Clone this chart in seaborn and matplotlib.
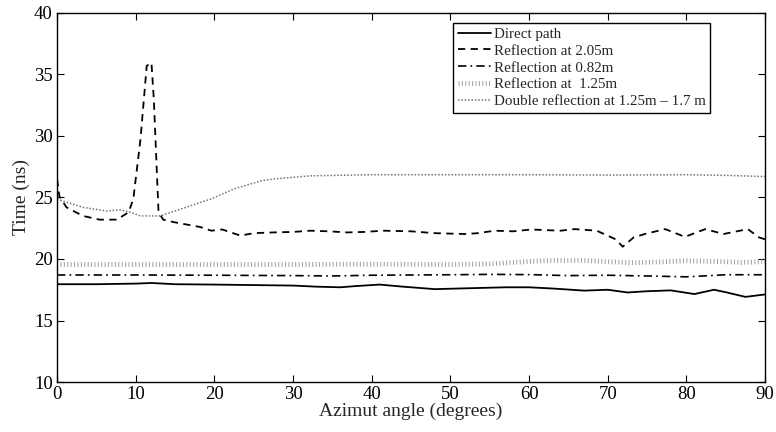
import numpy as np
import pandas as pd
import seaborn as sns
import matplotlib
matplotlib.use("Agg")
import matplotlib.pyplot as plt

# values
direct_x = [0, 5, 10, 12, 15, 20, 25, 30, 33, 36, 38, 41, 44, 48, 51, 54, 57, 60, 63, 67,
            70, 72.5, 75, 78, 81, 83.5, 85, 87.5, 90]
direct_y = [17.95, 17.95, 18.0, 18.05, 17.95, 17.92, 17.88, 17.84, 17.75, 17.7, 17.8, 17.92,
            17.75, 17.55, 17.6, 17.65, 17.7, 17.7, 17.6, 17.43, 17.5, 17.28, 17.38, 17.45,
            17.15, 17.5, 17.3, 16.92, 17.12]

refl205_x = [0, 0.3, 1.2, 3.3, 5.4, 7.6, 9.1, 9.7, 10.6, 11.4, 12.0, 12.3, 12.9, 13.5, 14.8,
             16.5, 18.2, 19.6, 21, 23.3, 25, 27.5, 30, 32.2, 34.5, 36.9, 39, 41.5, 45, 48,
             51.9, 53.5, 55.6, 58, 60.3, 62, 64, 65.8, 68.6, 71, 71.9, 73.3, 74.7, 77.3,
             79.8, 82.4, 84.7, 87.8, 89.2, 90]
refl205_y = [26.5, 25.1, 24.2, 23.5, 23.2, 23.2, 23.8, 24.9, 29.7, 35.7, 35.95, 33.0, 23.8,
             23.2, 23.0, 22.8, 22.6, 22.3, 22.4, 21.9, 22.1, 22.16, 22.2, 22.3, 22.25, 22.16,
             22.2, 22.3, 22.25, 22.1, 22.03, 22.1, 22.3, 22.25, 22.4, 22.35, 22.3, 22.43,
             22.3, 21.6, 21.0, 21.76, 22.03, 22.43, 21.8, 22.43, 22.03, 22.43, 21.76, 21.6]

refl082_x = [0, 10, 20, 30, 35, 40, 50, 55, 60, 65, 70, 75, 80, 85, 90]
refl082_y = [18.7, 18.7, 18.68, 18.65, 18.62, 18.68, 18.72, 18.75, 18.73, 18.65, 18.68,
             18.62, 18.55, 18.72, 18.72]

refl125_x = [0, 10, 20, 30, 40, 50, 55, 60, 63, 67, 70, 73, 76, 80, 84, 87, 90]
refl125_y = [19.55, 19.55, 19.55, 19.55, 19.58, 19.55, 19.6, 19.8, 19.88, 19.88, 19.78,
             19.7, 19.75, 19.85, 19.8, 19.72, 19.8]

double_x = [0, 3.3, 6.3, 8, 9.3, 10.6, 13.1, 15.7, 18.2, 19.5, 22.5, 25.9, 27.5, 32.2, 40,
            50, 60, 70, 80, 85, 90]
double_y = [24.86, 24.2, 23.9, 24.0, 23.8, 23.5, 23.5, 24.05, 24.6, 24.86, 25.7, 26.35,
            26.5, 26.76, 26.85, 26.85, 26.85, 26.82, 26.85, 26.8, 26.7]

labels = ['Direct path', 'Reflection at 2.05m', 'Reflection at 0.82m',
          'Reflection at  1.25m', 'Double reflection at 1.25m \u2013 1.7 m']

sns.set_theme(style="ticks")
plt.rcParams['font.family'] = ['Liberation Serif', 'DejaVu Serif']
plt.rcParams['xtick.direction'] = 'in'
plt.rcParams['ytick.direction'] = 'in'

fig = plt.figure(figsize=(7.76, 4.32), dpi=100)
ax = fig.add_axes([0.0735, 0.1157, 0.9125, 0.8543])

sns.lineplot(x=direct_x, y=direct_y, ax=ax, color='black', lw=1.3, label=labels[0])
sns.lineplot(x=refl205_x, y=refl205_y, ax=ax, color='black', lw=1.3,
             linestyle=(0, (4, 3)), label=labels[1])
sns.lineplot(x=refl082_x, y=refl082_y, ax=ax, color='black', lw=1.2,
             linestyle=(0, (5, 2.5, 1, 2.5)), label=labels[2])
sns.lineplot(x=refl125_x, y=refl125_y, ax=ax, color='0.62', lw=3.5,
             linestyle=(0, (0.2, 0.5)), dash_capstyle='butt', label=labels[3])
sns.lineplot(x=double_x, y=double_y, ax=ax, color='0.45', lw=1.1,
             linestyle=(0, (1, 1.2)), label=labels[4])

ax.set_xlim(0, 90)
ax.set_ylim(10, 40)
ax.set_xticks(range(0, 91, 10))
ax.set_yticks(range(10, 41, 5))
ax.tick_params(top=True, right=True, length=5, width=0.8, labelsize=13.5, colors='black',
               pad=3)
for s in ax.spines.values():
    s.set_visible(True)
    s.set_color('black')
    s.set_linewidth(1.0)
ax.set_xlabel('Azimut angle (degrees)', fontsize=14, labelpad=0)
ax.set_ylabel('Time (ns)', fontsize=14, labelpad=3)

leg = ax.legend(loc='upper right', bbox_to_anchor=(0.922, 0.973), fontsize=10.8,
                frameon=True, fancybox=False, framealpha=1, edgecolor='black',
                handlelength=2.2, handletextpad=0.2, labelspacing=0.22, borderpad=0.3,
                borderaxespad=0)
leg.get_frame().set_linewidth(1.0)

fig.savefig('out.png', dpi=100)
